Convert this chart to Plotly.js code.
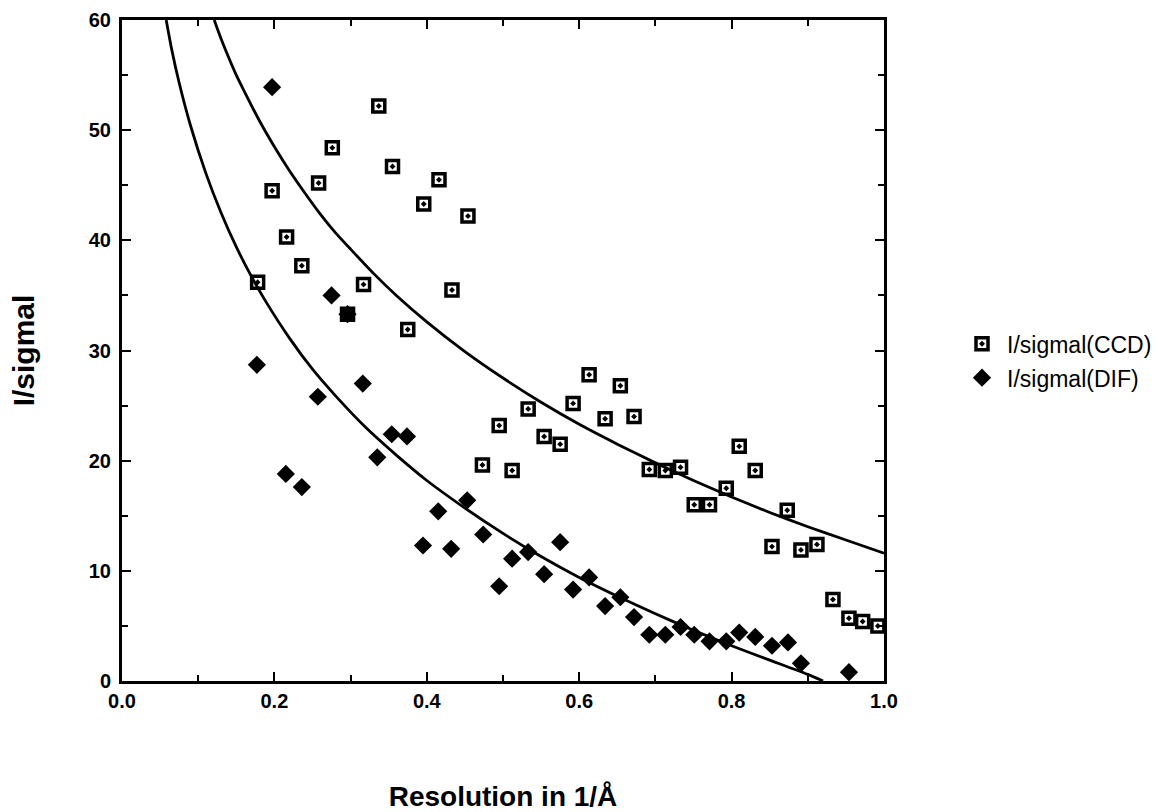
<!DOCTYPE html>
<html>
<head>
<meta charset="utf-8">
<script src="https://cdn.plot.ly/plotly-3.0.1.min.js"></script>
<style>html,body{margin:0;padding:0;background:#fff;}#chart{width:1160px;height:812px;}</style>
</head>
<body>
<div id="chart"></div>
<script>
// Data
const ccdX = [0.178,0.197,0.216,0.236,0.258,0.276,0.296,0.317,0.337,0.355,0.375,0.396,0.416,0.433,0.454,
              0.473,0.495,0.512,0.533,0.554,0.575,0.592,0.613,0.634,0.654,0.672,0.692,0.713,0.733,0.751,
              0.771,0.793,0.810,0.831,0.853,0.873,0.891,0.912,0.933,0.954,0.972,0.992];
const ccdY = [36.2,44.5,40.3,37.7,45.2,48.4,33.3,36.0,52.2,46.7,31.9,43.3,45.5,35.5,42.2,
              19.6,23.2,19.1,24.7,22.2,21.5,25.2,27.8,23.8,26.8,24.0,19.2,19.1,19.4,16.0,
              16.0,17.5,21.3,19.1,12.2,15.5,11.9,12.4,7.4,5.7,5.4,5.0];

const difX = [0.177,0.197,0.215,0.236,0.257,0.275,0.296,0.316,0.335,0.354,0.374,0.395,0.415,0.432,0.453,
              0.474,0.495,0.512,0.533,0.554,0.575,0.592,0.613,0.634,0.654,0.672,0.692,0.713,0.733,0.751,
              0.771,0.793,0.810,0.831,0.853,0.874,0.891,0.954];
const difY = [28.7,53.9,18.8,17.6,25.8,35.0,33.3,27.0,20.3,22.4,22.2,12.3,15.4,12.0,16.4,
              13.3,8.6,11.1,11.7,9.7,12.6,8.3,9.4,6.8,7.6,5.8,4.2,4.2,4.9,4.2,
              3.6,3.6,4.4,4.0,3.2,3.5,1.6,0.8];

// Fitted curves
const fitCcdX = [0.121,0.13,0.14,0.15,0.16,0.18,0.20,0.22,0.24,0.26,0.28,0.30,0.33,0.36,0.40,0.45,0.50,0.55,0.60,0.65,0.70,0.75,0.80,0.85,0.90,0.95,1.0];
const fitCcdY = [60.0,58.3,56.6,55.0,53.6,50.9,48.5,46.3,44.3,42.4,40.7,39.2,37.0,35.0,32.6,29.9,27.5,25.3,23.3,21.5,19.8,18.2,16.7,15.3,14.0,12.8,11.6];
const fitDifX = [0.058,0.065,0.075,0.09,0.11,0.13,0.15,0.17,0.19,0.22,0.25,0.28,0.32,0.36,0.40,0.45,0.50,0.55,0.60,0.65,0.70,0.75,0.80,0.85,0.90,0.92];
const fitDifY = [60.0,57.4,54.3,50.4,46.1,42.5,39.4,36.7,34.3,31.1,28.3,25.9,23.0,20.5,18.2,15.7,13.4,11.3,9.4,7.7,6.1,4.6,3.2,1.9,0.6,0.0];

const seriesNames = ['I/sigmal(CCD)','I/sigmal(DIF)'];
const xTickVals = [0,0.2,0.4,0.6,0.8,1.0];
const xTickText = ['0.0','0.2','0.4','0.6','0.8','1.0'];
const yTickVals = [0,10,20,30,40,50,60];

const traces = [
  {x: fitCcdX, y: fitCcdY, mode:'lines', line:{color:'#000', width:2.8, shape:'spline', smoothing:0.6}, showlegend:false, hoverinfo:'skip'},
  {x: fitDifX, y: fitDifY, mode:'lines', line:{color:'#000', width:2.8, shape:'spline', smoothing:0.6}, showlegend:false, hoverinfo:'skip'},
  {x: ccdX, y: ccdY, name: seriesNames[0], mode:'markers', legendgroup:'a',
   marker:{symbol:'square-open-dot', size:12, color:'#000', line:{width:3.5, color:'#000'}}},
  {x: difX, y: difY, name: seriesNames[1], mode:'markers', legendgroup:'b',
   marker:{symbol:'diamond', size:14, color:'#000', line:{width:0}}}
];

const fam = 'Liberation Sans, Arial, sans-serif';
const axisFont = {family:fam, size:20, color:'#000', weight:'bold'};

const layout = {
  width:1160, height:812,
  paper_bgcolor:'#fff', plot_bgcolor:'#fff',
  margin:{l:122, r:276, t:20, b:131, autoexpand:false},
  font:{family:fam, color:'#000'},
  xaxis:{range:[0,1.0], tickvals:xTickVals, ticktext:xTickText, ticks:'inside', ticklen:9, tickwidth:2,
         tickcolor:'#000', showline:true, linecolor:'#000', linewidth:3, mirror:'allticks', showgrid:false, zeroline:false,
         minor:{dtick:0.1, ticks:'inside', ticklen:6, tickwidth:2, tickcolor:'#000'},
         tickfont:axisFont, automargin:false,
         title:{text:'Resolution in 1/Å', font:{family:fam, size:28, color:'#000', weight:'bold'}, standoff:76}},
  yaxis:{range:[0,60], tickvals:yTickVals, ticks:'inside', ticklen:9, tickwidth:2, ticklabelstandoff:4,
         tickcolor:'#000', showline:true, linecolor:'#000', linewidth:3, mirror:'allticks', showgrid:false, zeroline:false,
         minor:{dtick:5, ticks:'inside', ticklen:6, tickwidth:2, tickcolor:'#000'},
         tickfont:axisFont, automargin:false,
         title:{text:'I/sigmal', font:{family:fam, size:30, color:'#000', weight:'bold'}, standoff:46}},
  legend:{xref:'container', yref:'container', x:0.825, y:0.603, xanchor:'left', yanchor:'top',
          traceorder:'grouped', tracegroupgap:1, itemwidth:40,
          font:{family:fam, size:23, color:'#000'}, bgcolor:'rgba(0,0,0,0)'},
  showlegend:true
};

Plotly.newPlot('chart', traces, layout, {displayModeBar:false, staticPlot:true});
</script>
</body>
</html>
